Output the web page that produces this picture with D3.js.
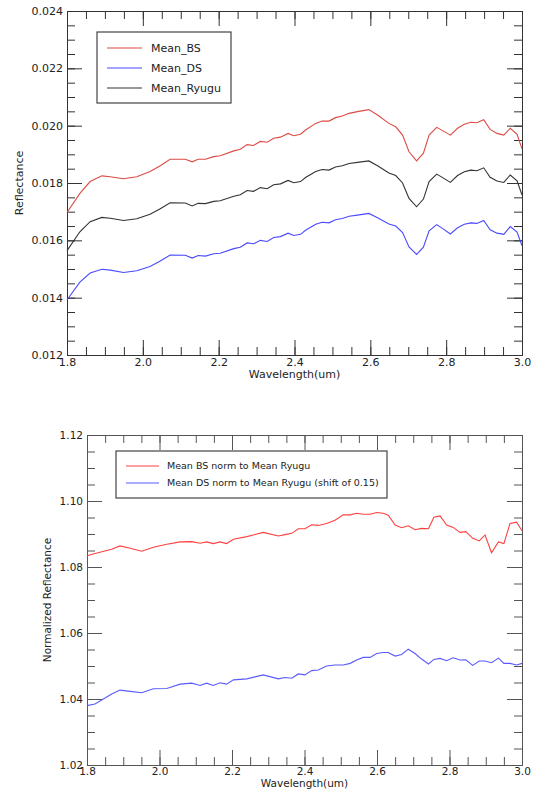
<!DOCTYPE html>
<html lang="en">
<head>
<meta charset="UTF-8"/>
<title>Ryugu mean spectra</title>
<script src="https://d3js.org/d3.v7.min.js"></script>
<style>
  body { margin: 0; background: #fff; }
  svg text { font-family: "DejaVu Sans", sans-serif; fill: #222; }
</style>
</head>
<body>
<script>
    // wavelengths (um) for the top panel
    var wave = [1.800, 1.834, 1.861, 1.892, 1.914, 1.949, 1.984, 2.019, 2.046, 2.072,
                2.112, 2.130, 2.146, 2.165, 2.187, 2.204, 2.240, 2.257, 2.275, 2.292,
                2.310, 2.328, 2.345, 2.363, 2.383, 2.398, 2.416, 2.429, 2.456, 2.473,
                2.491, 2.508, 2.526, 2.544, 2.566, 2.596, 2.619, 2.649, 2.667, 2.685,
                2.702, 2.722, 2.740, 2.755, 2.775, 2.793, 2.811, 2.830, 2.848, 2.865,
                2.881, 2.899, 2.916, 2.934, 2.952, 2.969, 2.987, 3.000];

    var meanBS = [.01697, .01764, .01805, .01825, .01822, .01815, .01822, .01840, .01860, .01883,
                  .01883, .01874, .01883, .01883, .01892, .01895, .01912, .01918, .01934, .01931,
                  .01945, .01942, .01956, .01960, .01973, .01965, .01970, .01985, .02008, .02016,
                  .02016, .02028, .02034, .02043, .02049, .02056, .02037, .02008, .01996, .01967,
                  .01909, .01877, .01904, .01967, .01994, .01981, .01967, .01991, .02005, .02012,
                  .02010, .02021, .01987, .01973, .01967, .01991, .01970, .01919];

    var meanRyugu = [.01564, .01630, .01665, .01680, .01677, .01669, .01675, .01691, .01710, .01731,
                     .01730, .01720, .01729, .01728, .01736, .01738, .01754, .01759, .01774, .01771,
                     .01784, .01780, .01794, .01797, .01809, .01801, .01805, .01819, .01840, .01847,
                     .01845, .01856, .01860, .01868, .01872, .01877, .01860, .01835, .01826, .01800,
                     .01746, .01717, .01744, .01805, .01831, .01817, .01802, .01826, .01839, .01845,
                     .01843, .01853, .01820, .01807, .01802, .01828, .01808, .01758];

    var meanDS = [.01392, .01454, .01486, .01499, .01496, .01488, .01494, .01509, .01528, .01549,
                  .01548, .01538, .01547, .01545, .01553, .01555, .01571, .01576, .01591, .01588,
                  .01600, .01596, .01610, .01613, .01625, .01617, .01621, .01635, .01656, .01663,
                  .01661, .01672, .01676, .01684, .01688, .01694, .01679, .01657, .01650, .01627,
                  .01577, .01551, .01576, .01633, .01655, .01639, .01622, .01644, .01656, .01661,
                  .01659, .01669, .01637, .01625, .01621, .01648, .01629, .01581];

    // wavelengths (um) for the bottom panel
    var normWave = [1.800, 1.822, 1.844, 1.868, 1.891, 1.919, 1.951, 1.983, 2.020, 2.057,
                    2.089, 2.112, 2.130, 2.148, 2.167, 2.185, 2.204, 2.241, 2.286, 2.328,
                    2.346, 2.365, 2.383, 2.401, 2.420, 2.438, 2.461, 2.484, 2.507, 2.526,
                    2.544, 2.562, 2.581, 2.599, 2.617, 2.631, 2.650, 2.668, 2.686, 2.705,
                    2.723, 2.742, 2.757, 2.774, 2.792, 2.810, 2.829, 2.845, 2.864, 2.882,
                    2.898, 2.916, 2.935, 2.950, 2.967, 2.985, 3.000];

    var bsNorm = [1.0834, 1.0841, 1.0847, 1.0854, 1.0864, 1.0857, 1.0848, 1.0860, 1.0869, 1.0876,
                  1.0877, 1.0872, 1.0876, 1.0871, 1.0876, 1.0871, 1.0884, 1.0892, 1.0905, 1.0894,
                  1.0898, 1.0902, 1.0916, 1.0916, 1.0928, 1.0926, 1.0932, 1.0942, 1.0958, 1.0958,
                  1.0963, 1.0960, 1.0960, 1.0965, 1.0963, 1.0957, 1.0927, 1.0919, 1.0925, 1.0913,
                  1.0917, 1.0916, 1.0951, 1.0955, 1.0927, 1.0920, 1.0905, 1.0907, 1.0887, 1.0879,
                  1.0897, 1.0843, 1.0876, 1.0871, 1.0932, 1.0936, 1.0910];

    var dsNorm = [1.0380, 1.0385, 1.0399, 1.0415, 1.0427, 1.0423, 1.0419, 1.0431, 1.0432, 1.0445,
                  1.0448, 1.0441, 1.0448, 1.0441, 1.0449, 1.0445, 1.0458, 1.0461, 1.0473, 1.0461,
                  1.0465, 1.0463, 1.0476, 1.0473, 1.0486, 1.0488, 1.0500, 1.0503, 1.0503, 1.0508,
                  1.0518, 1.0526, 1.0526, 1.0538, 1.0541, 1.0541, 1.0530, 1.0535, 1.0551, 1.0538,
                  1.0521, 1.0506, 1.0520, 1.0523, 1.0516, 1.0525, 1.0518, 1.0519, 1.0502, 1.0515,
                  1.0515, 1.0510, 1.0524, 1.0508, 1.0508, 1.0503, 1.0508];

    var xTicks = [1.8, 2.0, 2.2, 2.4, 2.6, 2.8, 3.0];
    var topYTicks = [0.012, 0.014, 0.016, 0.018, 0.020, 0.022, 0.024];
    var botYTicks = [1.02, 1.04, 1.06, 1.08, 1.10, 1.12];

    var topNames = ["Mean_BS", "Mean_DS", "Mean_Ryugu"];
    var botNames = ["Mean BS norm to Mean Ryugu", "Mean DS norm to Mean Ryugu (shift of 0.15)"];

    var svg = d3.select("body").append("svg")
                .attr("width", 534)
                .attr("height", 791);

    function minorValues(lo, hi, step) {
        var out = [];
        for (var v = lo; v <= hi + step / 2; v += step) out.push(+v.toFixed(6));
        return out;
    }

    function drawPanel(p) {
        var g = svg.append("g").attr("transform", "translate(" + p.left + "," + p.top + ")");
        var w = p.right - p.left;
        var h = p.bottom - p.top;

        var x = d3.scaleLinear().domain([1.8, 3.0]).range([0, w]);
        var y = d3.scaleLinear().domain(p.yDomain).range([h, 0]);

        var xMinor = minorValues(1.8, 3.0, 0.05);
        var yMinor = minorValues(p.yDomain[0], p.yDomain[1], p.yMinorStep);

        // minor ticks on all four sides
        g.append("g").attr("transform", "translate(0," + h + ")")
            .call(d3.axisBottom(x).tickValues(xMinor).tickSize(-8).tickSizeOuter(0).tickFormat(""));
        g.append("g")
            .call(d3.axisTop(x).tickValues(xMinor).tickSize(-8).tickSizeOuter(0).tickFormat(""));
        g.append("g")
            .call(d3.axisLeft(y).tickValues(yMinor).tickSize(-8).tickSizeOuter(0).tickFormat(""));
        g.append("g").attr("transform", "translate(" + w + ",0)")
            .call(d3.axisRight(y).tickValues(yMinor).tickSize(-8).tickSizeOuter(0).tickFormat(""));

        // major ticks
        g.append("g").attr("class", "lab").attr("transform", "translate(0," + h + ")")
            .call(d3.axisBottom(x).tickValues(xTicks).tickSize(-15).tickSizeOuter(0)
                  .tickPadding(3).tickFormat(d3.format(".1f")));
        g.append("g")
            .call(d3.axisTop(x).tickValues(xTicks).tickSize(-15).tickSizeOuter(0).tickFormat(""));
        g.append("g").attr("class", "lab")
            .call(d3.axisLeft(y).tickValues(p.yTicks).tickSize(-15).tickSizeOuter(0)
                  .tickPadding(4).tickFormat(d3.format(p.yFormat)));
        g.append("g").attr("transform", "translate(" + w + ",0)")
            .call(d3.axisRight(y).tickValues(p.yTicks).tickSize(-15).tickSizeOuter(0).tickFormat(""));

        g.selectAll(".domain, .tick line").attr("stroke", p.axisColor);
        g.selectAll(".lab text")
            .attr("font-size", p.tickFont + "px")
            .attr("font-family", "DejaVu Sans, sans-serif")
            .attr("fill", "#222");

        var line = d3.line()
                     .x(function(d) { return x(d[0]); })
                     .y(function(d) { return y(d[1]); });

        p.series.forEach(function(s) {
            g.append("path")
                .datum(d3.zip(s.wave, s.values))
                .attr("fill", "none")
                .attr("stroke", s.color)
                .attr("stroke-width", 1.1)
                .attr("d", line);
        });

        // legend
        var lg = svg.append("g");
        lg.append("rect")
            .attr("x", p.legend.x).attr("y", p.legend.y)
            .attr("width", p.legend.w).attr("height", p.legend.h)
            .attr("fill", "#fff").attr("stroke", "#444").attr("stroke-width", 1.2);
        p.legend.items.forEach(function(it, i) {
            var cy = p.legend.y + p.legend.first + i * p.legend.gap;
            lg.append("line")
                .attr("x1", p.legend.x + 10).attr("x2", p.legend.x + 10 + p.legend.len)
                .attr("y1", cy).attr("y2", cy)
                .attr("stroke", it.color).attr("stroke-width", 1.2);
            lg.append("text")
                .attr("x", p.legend.x + p.legend.textX)
                .attr("y", cy)
                .attr("dy", "0.35em")
                .attr("font-size", p.legend.font + "px")
                .text(it.name);
        });

        // axis titles
        svg.append("text")
            .attr("x", (p.left + p.right) / 2)
            .attr("y", p.xTitleY)
            .attr("text-anchor", "middle")
            .attr("font-size", p.titleFont + "px")
            .text("Wavelength(um)");
        svg.append("text")
            .attr("transform", "translate(" + p.yTitleX + "," + (p.top + p.bottom) / 2 + ") rotate(-90)")
            .attr("text-anchor", "middle")
            .attr("font-size", p.titleFont + "px")
            .text(p.yTitle);
    }

    drawPanel({
        left: 67, right: 522, top: 11, bottom: 355,
        yDomain: [0.012, 0.024], yTicks: topYTicks, yMinorStep: 0.0005, yFormat: ".3f",
        axisColor: "#333", tickFont: 11, titleFont: 11,
        xTitleY: 378, yTitleX: 23, yTitle: "Reflectance",
        series: [
            { wave: wave, values: meanBS, color: "#dd4b44" },
            { wave: wave, values: meanDS, color: "#4a4aff" },
            { wave: wave, values: meanRyugu, color: "#333" }
        ],
        legend: {
            x: 97, y: 32, w: 134, h: 71, first: 16, gap: 20, len: 35, textX: 54, font: 11,
            items: [
                { name: topNames[0], color: "#dd4b44" },
                { name: topNames[1], color: "#4a4aff" },
                { name: topNames[2], color: "#333" }
            ]
        }
    });

    drawPanel({
        left: 87, right: 522, top: 435, bottom: 765,
        yDomain: [1.02, 1.12], yTicks: botYTicks, yMinorStep: 0.005, yFormat: ".2f",
        axisColor: "#555", tickFont: 10.5, titleFont: 10.5,
        xTitleY: 787, yTitleX: 51, yTitle: "Normalized Reflectance",
        series: [
            { wave: normWave, values: bsNorm, color: "#ff4040" },
            { wave: normWave, values: dsNorm, color: "#5a5aff" }
        ],
        legend: {
            x: 116, y: 451, w: 271, h: 47, first: 15, gap: 17, len: 33, textX: 51, font: 9.5,
            items: [
                { name: botNames[0], color: "#ff4040" },
                { name: botNames[1], color: "#5a5aff" }
            ]
        }
    });
</script>
</body>
</html>
